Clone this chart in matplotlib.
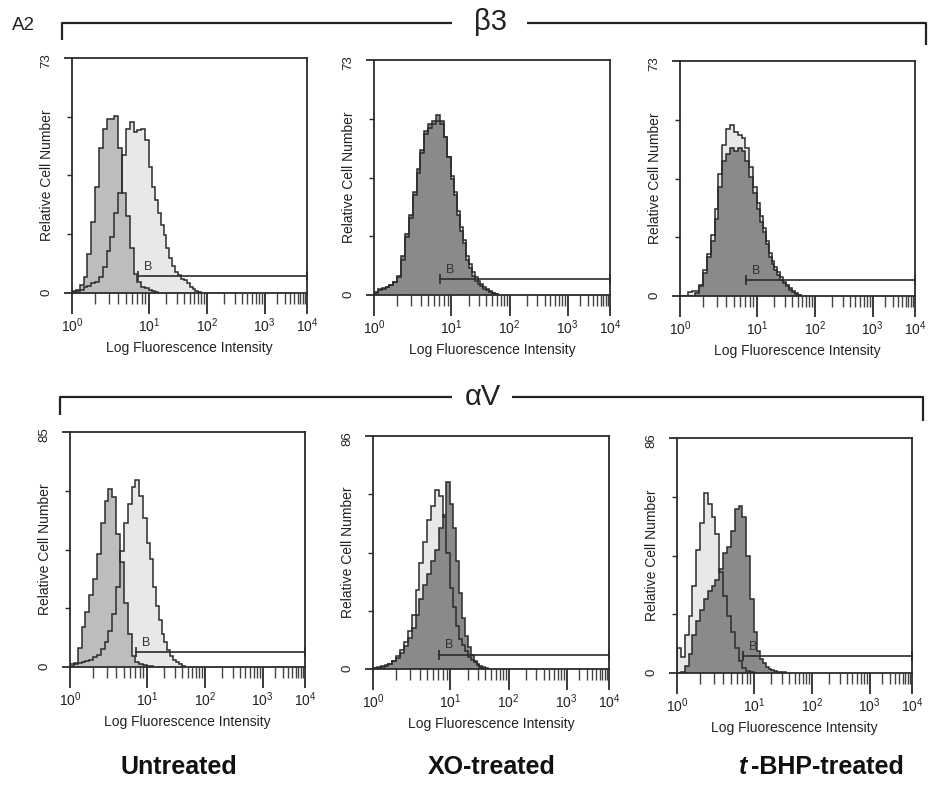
import numpy as np
import matplotlib
matplotlib.use("Agg")
import matplotlib.pyplot as plt
from matplotlib.ticker import FixedLocator, NullFormatter

plt.rcParams['font.family'] = ['Liberation Sans', 'DejaVu Sans']
plt.rcParams['mathtext.default'] = 'regular'

# ---------------------------------------------------------------------------
# Histogram counts, one value per 0.05-decade channel group starting at 10^0
# ---------------------------------------------------------------------------
CHANNEL_DECADES = 0.05

# beta3 staining
b3_untreated_open = [0.3, 0.5, 1, 1.8, 2.2, 3, 3.4, 5, 8, 13, 17.5, 25, 31, 43, 51, 53,
                     50, 50.5, 51, 47.5, 39, 33, 29, 25, 21, 18, 14, 11, 8.5, 6.5, 5.5,
                     4.5, 4, 3, 2, 1.2, 0.6, 0.2]
b3_untreated_fill = [0.5, 1, 2.4, 5, 12, 22, 33, 45, 51, 54, 54, 55, 45, 31, 24, 14, 6,
                     3.5, 2, 1.5, 1, 0.6, 0.3]

b3_xo_open = [0.8, 1.8, 2.2, 2.6, 3, 4, 5.5, 11, 18, 24, 31, 38, 44, 50, 52, 53, 54, 53,
              49, 43, 37, 32, 26, 21, 17, 12, 9.5, 7, 5.5, 4.5, 3.5, 2.5, 1.8, 1.2, 0.7, 0.3]
b3_xo_fill = [0.5, 1.5, 2, 2.5, 3, 4, 6, 12, 19, 25, 32, 39, 45, 51, 53, 54, 56, 54, 49,
              43, 36, 31, 25, 20, 16, 11, 8.5, 6, 4.5, 3.5, 2.8, 2, 1.5, 1, 0.5, 0.2]

b3_tbhp_open = [0, 0, 1.2, 1.5, 1.5, 3.5, 8, 13, 19, 27, 38, 47, 52, 53, 51, 50, 49, 46,
                40, 34, 29, 25, 21, 17, 13.5, 11, 9, 7.5, 6, 4.5, 3.5, 2.5, 1.6, 0.9, 0.4]
b3_tbhp_fill = [0, 0, 0, 0, 1, 3, 7, 12, 17, 24, 34, 42, 44, 46, 45, 46, 45, 42, 37, 32,
                27, 23, 20, 16, 12, 10, 8, 6.5, 5, 4, 3, 2, 1.2, 0.6, 0.2]

# alphaV staining
av_untreated_open = [1.2, 1.3, 1.5, 1.7, 2, 2.7, 3.5, 4.5, 6.5, 9, 13, 19, 29, 42, 52, 59,
                     65, 67.5, 62, 54, 45, 39, 29, 22, 17, 12, 9, 6, 4, 2.6, 1.8, 1, 0.4]
av_untreated_fill = [0.5, 1, 7, 14.5, 20, 26, 32, 41, 52, 60, 64.5, 61.5, 48, 38, 23, 12,
                     4, 1.8, 1.2, 0.8, 0.5, 0.2]

av_xo_open = [0.3, 0.6, 1, 1.4, 2, 3, 4.7, 7, 10, 14, 20, 29, 39, 47, 55, 60, 66, 64, 56,
              43, 30, 23, 16, 11, 9, 6.5, 4.5, 3.5, 2.4, 1.6, 0.9, 0.4]
av_xo_fill = [0.2, 0.4, 0.8, 1.2, 1.8, 2.8, 4.2, 6, 8.5, 11.5, 15, 20, 26, 31, 35, 40, 44,
              52, 57, 69, 61, 52, 40, 28, 19, 12, 8, 5, 3, 2, 1.2, 0.6, 0.2]

av_tbhp_open = [9, 6, 14, 21, 32, 45, 55, 66, 62, 57, 51, 37, 28, 21, 15, 9, 4.5, 2, 0.6,
                0.2]
av_tbhp_fill = [0, 0.5, 2.5, 7, 14, 19, 23, 27, 30, 32, 34, 38, 44, 46, 52, 60, 61, 57, 43,
                27, 15, 8, 5, 3.5, 2.2, 1.5, 1, 0.7, 0.5, 0.3, 0.2]

# y-axis full scale of each panel, gate "B" start (decades) and gate height
y_max = [73, 73, 73, 85, 86, 86]
gate_start_decade = 0.86
gate_height = [5.2, 4.9, 4.9, 5.4, 5.3, 6.1]

x_major = [1, 10, 100, 1000, 10000]
x_major_labels = ['$10^{0}$', '$10^{1}$', '$10^{2}$', '$10^{3}$', '$10^{4}$']
x_minor = [k * 10 ** d for d in range(4) for k in range(2, 10)]

row_markers = ['β3', 'αV']
conditions = ['Untreated', 'XO-treated', '-BHP-treated']

# ---------------------------------------------------------------------------
# Log axis of the cytometer printout: decades are not drawn equally wide
# ---------------------------------------------------------------------------
DECADES = [-1, 0, 1, 2, 3, 4, 5]
DECADE_POS = [-1.31, 0, 1.31, 2.30, 3.28, 4.0, 4.72]


def fwd(x):
    x = np.asarray(x, dtype=float)
    return np.interp(np.log10(np.clip(x, 1e-6, None)), DECADES, DECADE_POS)


def inv(p):
    return 10 ** np.interp(np.asarray(p, dtype=float), DECADE_POS, DECADES)


W, H = 933, 785
EDGE = '#2b2b2b'
LIGHT = '#e8e8e8'
MEDIUM = '#bdbdbd'
DARK = '#8a8a8a'

fig = plt.figure(figsize=(W / 100, H / 100), dpi=100)
fig.patch.set_facecolor('white')

# panel frames in pixels: left, top, right, bottom
rects = [(72, 58, 307, 293), (374, 60, 610, 295), (680, 61, 915, 296),
         (70, 432, 305, 667), (373, 436, 609, 669), (677, 438, 912, 673)]

panels = [
    (b3_untreated_open, LIGHT, b3_untreated_fill, MEDIUM),
    (b3_xo_open, LIGHT, b3_xo_fill, DARK),
    (b3_tbhp_open, LIGHT, b3_tbhp_fill, DARK),
    (av_untreated_open, LIGHT, av_untreated_fill, MEDIUM),
    (av_xo_open, LIGHT, av_xo_fill, DARK),
    (av_tbhp_open, LIGHT, av_tbhp_fill, DARK),
]


def edges_for(counts):
    return 10 ** (CHANNEL_DECADES * np.arange(len(counts) + 1))


for i, ((under, c_under, over, c_over), (l, t, r, b)) in enumerate(zip(panels, rects)):
    ax = fig.add_axes([l / W, 1 - b / H, (r - l) / W, (b - t) / H])
    ax.set_xscale('function', functions=(fwd, inv))
    ax.set_xlim(1, 1e4)
    ym = y_max[i]
    ax.set_ylim(0, ym)

    ax.stairs(under, edges_for(under), fill=True, color=c_under, lw=0, zorder=1)
    ax.stairs(over, edges_for(over), fill=True, color=c_over, lw=0, zorder=2)
    ax.stairs(under, edges_for(under), baseline=0, color=EDGE, lw=1.1, zorder=3)
    ax.stairs(over, edges_for(over), baseline=0, color=EDGE, lw=1.1, zorder=3)

    # marker gate
    g = gate_height[i]
    ax.plot([10 ** gate_start_decade, 1e4], [g, g], color=EDGE, lw=1.2,
            marker='|', ms=7, mew=1.2, zorder=4, clip_on=False)
    ax.annotate('B', (10 ** 0.99, g), xytext=(0, 2.5), textcoords='offset points',
                ha='center', va='bottom', fontsize=9, color='#333333')

    for s in ax.spines.values():
        s.set_linewidth(1.3)
        s.set_color(EDGE)

    ax.xaxis.set_major_locator(FixedLocator(x_major))
    ax.set_xticklabels(x_major_labels)
    ax.xaxis.set_minor_locator(FixedLocator(x_minor))
    ax.xaxis.set_minor_formatter(NullFormatter())
    ax.tick_params(axis='x', which='major', length=15, width=1.3, color=EDGE,
                   direction='out', pad=2, labelsize=10, labelcolor='#222222')
    ax.tick_params(axis='x', which='minor', length=8, width=1.0, color='#444444',
                   direction='out')

    ax.yaxis.set_major_locator(FixedLocator([0, ym]))
    ax.set_yticklabels(['0', str(ym)])
    ax.yaxis.set_minor_locator(FixedLocator([ym / 4, ym / 2, 3 * ym / 4]))
    ax.yaxis.set_minor_formatter(NullFormatter())
    ax.tick_params(axis='y', which='major', length=6, width=1.3, color=EDGE,
                   direction='out', pad=8, labelsize=9.5, labelrotation=90,
                   labelcolor='#222222')
    ax.tick_params(axis='y', which='minor', length=3.5, width=1.0, color=EDGE,
                   direction='out')

    ax.set_ylabel('Relative Cell Number', fontsize=10, va='center', color='#222222')
    ax.yaxis.set_label_coords(-0.105, 0.5)
    ax.set_xlabel('Log Fluorescence Intensity', fontsize=10, labelpad=4,
                  color='#222222')

# overlay in pixel coordinates for the group brackets and condition captions
ov = fig.add_axes([0, 0, 1, 1], zorder=10)
ov.set_xlim(0, W)
ov.set_ylim(H, 0)
ov.axis('off')
ov.patch.set_alpha(0)

bk = dict(color='#222222', lw=1.6, solid_capstyle='butt')
ov.plot([62, 62, 452], [40, 23, 23], **bk)
ov.plot([527, 926, 926], [23, 23, 45], **bk)
ov.text(491, 22, row_markers[0], fontsize=21, ha='center', va='center', color='#222222')

ov.plot([60, 60, 452], [415, 397, 397], **bk)
ov.plot([512, 923, 923], [397, 397, 421], **bk)
ov.text(483, 397, row_markers[1], fontsize=21, ha='center', va='center', color='#222222')

ov.text(12, 26, 'A2', fontsize=13.5, ha='left', va='center', color='#222222')

cap = dict(fontsize=18, fontweight='bold', va='center', color='#111111')
ov.text(179, 767, conditions[0], ha='center', **cap)
ov.text(492, 767, conditions[1], ha='center', **cap)
ov.text(747, 767, 't', ha='right', style='italic', **cap)
ov.text(751, 767, conditions[2], ha='left', **cap)

fig.savefig('out.png', dpi=100, facecolor='white')
